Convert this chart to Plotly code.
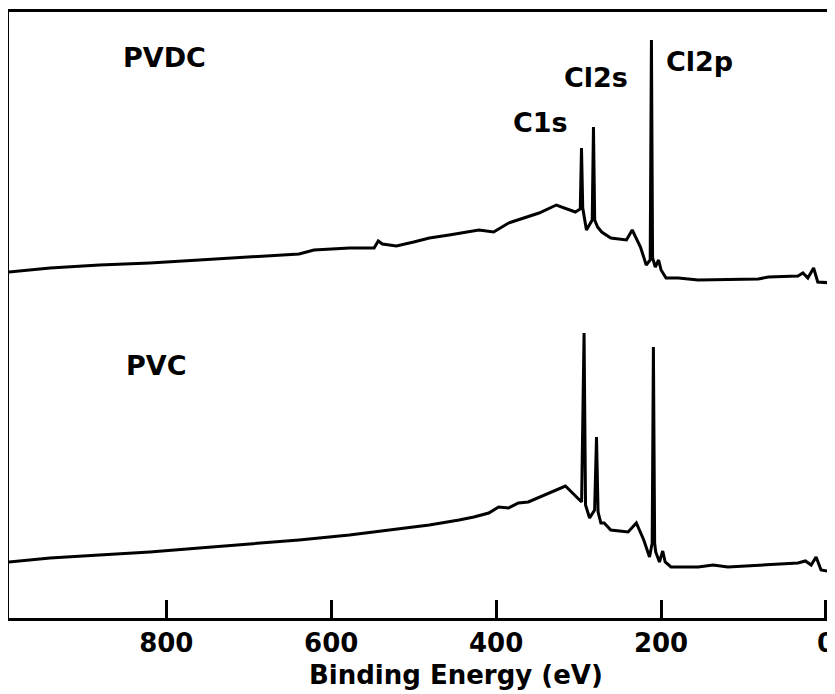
import plotly.graph_objects as go

# Binding energy (eV) and intensity (arbitrary units)
pvdc_be = [992, 941, 881, 820, 760, 699, 639, 621, 578, 548, 543, 538, 521, 500, 481,
           457, 421, 403, 385, 348, 327, 304, 298, 296.5, 295, 290.5,
           283.5, 282, 280.5, 277, 272, 261, 242,
           235, 225, 218, 213.2, 211.7, 210.3, 207, 203, 200, 194, 179, 155, 82, 70, 34,
           28, 22, 15, 10, -8]
pvdc_int = [346, 350, 353, 355, 358, 361, 364, 368, 370, 370, 377, 374, 372, 376, 380,
            383, 388, 386, 395, 405, 413, 406, 409, 470, 410, 388,
            398, 491, 398, 391, 386, 380, 378,
            388, 371, 353, 358, 578, 360, 351, 358, 348, 340, 340, 338, 339, 341, 342,
            345, 340, 350, 336, 335]

pvc_be = [992, 941, 881, 820, 760, 699, 639, 578, 518, 481, 445, 427, 409, 397, 385,
          373, 361, 342, 327, 316, 296.4, 293.4, 291.6, 286.7, 280.6, 278.3, 276.4,
          273, 269, 261, 240,
          230, 221, 214, 210.8, 209.3, 207.8, 206.5, 202, 198, 195, 188, 155, 137, 119,
          70, 34, 25, 18, 12, 6, -8]
pvc_int = [56, 60, 63, 66, 70, 74, 78, 83, 89, 93, 98, 101, 105, 111, 110,
           115, 116, 123, 128, 132, 116, 285, 113, 100, 108, 181, 106,
           95, 95, 88, 86,
           95, 78, 61, 75, 271, 75, 66, 56, 67, 56, 51, 51, 53, 51,
           53, 55, 57, 53, 61, 48, 46]

tick_vals = [800, 600, 400, 200, 0]
tick_text = ["800", "600", "400", "200", "0"]

labels = ["PVDC", "PVC", "C1s", "Cl2s", "Cl2p"]
label_be = [802, 812, 346, 279, 154]
label_int = [561, 253, 496, 541, 557]

FONT = "DejaVu Sans"

fig = go.Figure()
fig.add_trace(go.Scatter(x=pvdc_be, y=pvdc_int, mode="lines",
                         line=dict(color="black", width=3), name="PVDC"))
fig.add_trace(go.Scatter(x=pvc_be, y=pvc_int, mode="lines",
                         line=dict(color="black", width=3), name="PVC"))

for t, bx, iy in zip(labels, label_be, label_int):
    fig.add_annotation(x=bx, y=iy, xref="x", yref="y", text=t, showarrow=False,
                       xanchor="center", yanchor="middle",
                       font=dict(family=FONT, size=27, color="black", weight="bold"))

fig.add_annotation(x=0.543, y=-0.094, xref="paper", yref="paper",
                   text="Binding Energy (eV)", showarrow=False,
                   xanchor="center", yanchor="middle",
                   font=dict(family=FONT, size=26, color="black", weight="bold"))

fig.update_layout(
    width=827, height=686,
    margin=dict(l=1, r=0, t=4, b=76),
    paper_bgcolor="white", plot_bgcolor="white",
    showlegend=False,
    xaxis=dict(range=[990.8, -8.5], tickvals=tick_vals, ticktext=tick_text,
               ticks="inside", ticklen=18, tickwidth=3, tickcolor="black",
               ticklabeloverflow="allow",
               showline=True, linewidth=3, linecolor="black", mirror=True,
               showgrid=False, zeroline=False,
               tickfont=dict(family=FONT, size=26, color="black", weight="bold")),
    yaxis=dict(range=[0, 606], showticklabels=False, ticks="",
               showline=True, linewidth=3, linecolor="black", mirror=False,
               showgrid=False, zeroline=False),
)

fig.write_html("out.html")
